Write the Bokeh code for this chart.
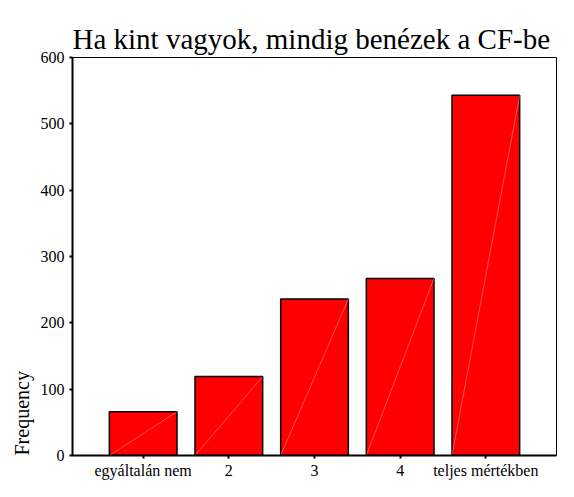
from bokeh.plotting import figure
from bokeh.models import Range1d, FixedTicker, Title, ColumnDataSource
from bokeh.embed import file_html
from bokeh.resources import INLINE

categories = ["egyáltalán nem", "2", "3", "4", "teljes mértékben"]
frequencies = [66, 119, 236, 267, 543]
y_ticks = [0, 100, 200, 300, 400, 500, 600]
title_text = "Ha kint vagyok, mindig benézek a CF-be"
y_label = "Frequency"

FONT = "Liberation Serif"
BAR_W = 0.79

xs = list(range(len(categories)))
src = ColumnDataSource(dict(
    x=xs,
    top=frequencies,
    x0=[x - BAR_W / 2 for x in xs],
    x1=[x + BAR_W / 2 for x in xs],
    y0=[0] * len(xs),
))

p = figure(width=558, height=481, output_backend="svg", toolbar_location=None,
           x_range=Range1d(-0.825, 4.825), y_range=Range1d(0, 600),
           min_border_left=72, min_border_right=2, min_border_top=57, min_border_bottom=10)

p.title.text = title_text
p.title.text_font = FONT
p.title.text_font_size = "29px"
p.title.text_font_style = "normal"
p.title.align = "left"
p.title.text_color = "black"
p.title.standoff = 6

p.add_layout(Title(text=y_label, align="left", text_font=FONT, text_font_size="20px",
                   text_font_style="normal", text_color="black"), "left")

p.vbar(x="x", top="top", width=BAR_W, bottom=0, source=src,
       fill_color="#ff0000", line_color="black", line_width=1.5)
p.segment(x0="x0", y0="y0", x1="x1", y1="top", source=src,
          line_color="#ffaaaa", line_width=0.6, line_alpha=0.8)

p.xgrid.visible = False
p.ygrid.visible = False
p.outline_line_color = "black"
p.outline_line_width = 1
p.background_fill_color = "white"
p.border_fill_color = "white"

p.xaxis.ticker = FixedTicker(ticks=xs)
p.xaxis.major_label_overrides = {i: c for i, c in enumerate(categories)}
p.yaxis.ticker = FixedTicker(ticks=y_ticks)

for ax in (p.xaxis, p.yaxis):
    ax.axis_line_color = "black"
    ax.axis_line_width = 2
    ax.major_tick_line_color = "black"
    ax.major_tick_line_width = 2
    ax.major_tick_in = 0
    ax.major_tick_out = 3
    ax.minor_tick_line_color = None
    ax.major_label_text_font = FONT
    ax.major_label_text_font_size = "16px"
    ax.major_label_text_color = "black"

p.xaxis.major_label_standoff = 3
p.yaxis.major_label_standoff = 5

open("out.html", "w").write(file_html(p, INLINE))
